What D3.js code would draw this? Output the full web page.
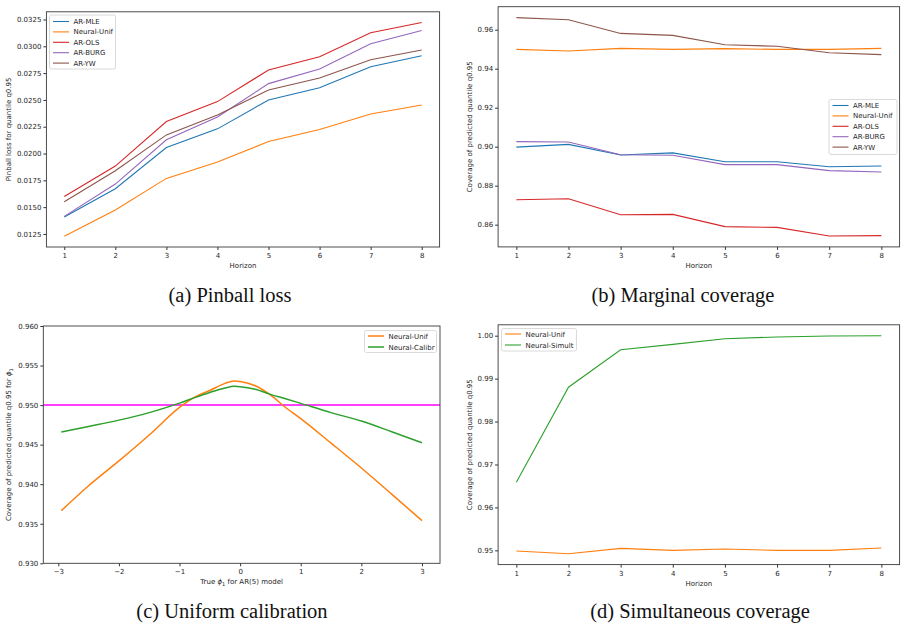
<!DOCTYPE html>
<html>
<head>
<meta charset="utf-8">
<script src="https://cdn.jsdelivr.net/npm/d3@7"></script>
<style>
  body { margin: 0; background: #fff; }
  svg { display: block; }
  .tick text { font-family: "DejaVu Sans", sans-serif; font-size: 7px; fill: #262626; }
  .tick line { stroke: #333; }
</style>
</head>
<body>
<div id="chart"></div>
<script>
// horizons shared by panels a, b, d
var horizons = [1, 2, 3, 4, 5, 6, 7, 8];

// (a) pinball loss
var pinMLE  = [0.01408, 0.01672, 0.02056, 0.02230, 0.02500, 0.02614, 0.02810, 0.02912];
var pinUnif = [0.01228, 0.01473, 0.01768, 0.01920, 0.02112, 0.02224, 0.02369, 0.02453];
var pinOLS  = [0.01600, 0.01883, 0.02298, 0.02484, 0.02779, 0.02903, 0.03126, 0.03222];
var pinBURG = [0.01414, 0.01715, 0.02128, 0.02341, 0.02652, 0.02788, 0.03024, 0.03148];
var pinYW   = [0.01551, 0.01839, 0.02174, 0.02360, 0.02593, 0.02704, 0.02875, 0.02965];
var pinTicks = [0.0125, 0.0150, 0.0175, 0.0200, 0.0225, 0.0250, 0.0275, 0.0300, 0.0325];

// (b) marginal coverage
var covMLE  = [0.8998, 0.9012, 0.8957, 0.8968, 0.8923, 0.8923, 0.8897, 0.8901];
var covUnif = [0.9499, 0.9491, 0.9504, 0.9499, 0.9503, 0.9499, 0.9499, 0.9504];
var covOLS  = [0.8728, 0.8733, 0.8651, 0.8653, 0.8590, 0.8586, 0.8542, 0.8544];
var covBURG = [0.9026, 0.9024, 0.8959, 0.8956, 0.8908, 0.8908, 0.8877, 0.8870];
var covYW   = [0.9662, 0.9651, 0.9581, 0.9571, 0.9523, 0.9515, 0.9482, 0.9472];
var covTicks = [0.86, 0.88, 0.90, 0.92, 0.94, 0.96];

// (c) uniform calibration, true phi_1
var phiVals   = [-2.95, -2.5, -2, -1.5, -1, -0.75, -0.5, -0.25, -0.1, 0, 0.25, 0.5, 0.75, 1, 1.5, 2, 2.5, 3];
var calUnif   = [0.93666, 0.9398, 0.94294, 0.94622, 0.94970, 0.95100, 0.95185, 0.95275, 0.95305, 0.95298, 0.95245, 0.95128, 0.94970, 0.94830, 0.94520, 0.94205, 0.93875, 0.93539];
var calCalibr = [0.94660, 0.9473, 0.94810, 0.94905, 0.95025, 0.95095, 0.95160, 0.95215, 0.95237, 0.95233, 0.95200, 0.95136, 0.95080, 0.95022, 0.94905, 0.94799, 0.94664, 0.94525];
var calTarget = 0.95;
var calTicks = [0.930, 0.935, 0.940, 0.945, 0.950, 0.955, 0.960];
var phiTicks = [-3, -2, -1, 0, 1, 2, 3];

// (d) simultaneous coverage
var simUnif   = [0.94984, 0.94922, 0.95047, 0.95000, 0.95031, 0.95000, 0.95000, 0.95054];
var simSimult = [0.96584, 0.98800, 0.99674, 0.99798, 0.99930, 0.99970, 0.99992, 1.00000];
var simTicks = [0.95, 0.96, 0.97, 0.98, 0.99, 1.00];

var blue = '#1f77b4', orange = '#ff7f0e', green = '#2ca02c',
    red = '#d62728', purple = '#9467bd', brown = '#8c564b';

var svg = d3.select('#chart').append('svg')
  .attr('width', 907)
  .attr('height', 631);

// matplotlib style 5% padding
function padded(values) {
  var lo = d3.min(values), hi = d3.max(values);
  var p = (hi - lo) * 0.05;
  return [lo - p, hi + p];
}

function drawPanel(p) {
  var x = d3.scaleLinear().domain(p.xDomain).range([p.left, p.right]);
  var y = d3.scaleLinear().domain(p.yDomain).range([p.bottom, p.top]);

  var g = svg.append('g');

  // lines
  var line = d3.line()
    .x(d => x(d[0]))
    .y(d => y(d[1]))
    .curve(p.curve || d3.curveLinear);

  if (p.hline !== undefined) {
    g.append('line')
      .attr('x1', p.left).attr('x2', p.right)
      .attr('y1', y(p.hline)).attr('y2', y(p.hline))
      .attr('stroke', '#ff00ff')
      .attr('stroke-width', 1.5);
  }

  p.series.forEach(function (s) {
    g.append('path')
      .datum(d3.zip(p.xs, s.values))
      .attr('fill', 'none')
      .attr('stroke', s.color)
      .attr('stroke-width', p.lw || 1.1)
      .attr('d', line);
  });

  // axes
  var xAxis = g.append('g')
    .attr('transform', `translate(0, ${p.bottom})`)
    .call(d3.axisBottom(x).tickValues(p.xTicks).tickSize(3).tickPadding(3)
      .tickFormat(p.xFormat || d3.format('d')));
  var yAxis = g.append('g')
    .attr('transform', `translate(${p.left}, 0)`)
    .call(d3.axisLeft(y).tickValues(p.yTicks).tickSize(3).tickPadding(2)
      .tickFormat(p.yFormat));
  xAxis.select('.domain').remove();
  yAxis.select('.domain').remove();

  // frame
  g.append('rect')
    .attr('x', p.left).attr('y', p.top)
    .attr('width', p.right - p.left).attr('height', p.bottom - p.top)
    .attr('fill', 'none')
    .attr('stroke', '#3a3a3a')
    .attr('stroke-width', 0.9);

  // axis labels
  var xl = g.append('text')
    .attr('x', (p.left + p.right) / 2)
    .attr('y', p.bottom + 21)
    .attr('text-anchor', 'middle')
    .attr('font-family', 'DejaVu Sans, sans-serif')
    .attr('font-size', '7px')
    .attr('fill', '#262626');
  p.xLabel(xl);

  var yl = g.append('text')
    .attr('transform', `translate(${p.yLabelX}, ${(p.top + p.bottom) / 2}) rotate(-90)`)
    .attr('text-anchor', 'middle')
    .attr('font-family', 'DejaVu Sans, sans-serif')
    .attr('font-size', '7px')
    .attr('fill', '#262626');
  p.yLabel(yl);

  // legend
  var L = p.legend;
  var lg = g.append('g');
  lg.append('rect')
    .attr('x', L.x).attr('y', L.y)
    .attr('width', L.w).attr('height', L.h)
    .attr('rx', 2)
    .attr('fill', 'white').attr('fill-opacity', 0.8)
    .attr('stroke', '#d0d0d0').attr('stroke-width', 0.8);
  p.series.forEach(function (s, i) {
    var yy = L.y + L.first + i * L.step;
    lg.append('line')
      .attr('x1', L.x + 3.5).attr('x2', L.x + 19.5)
      .attr('y1', yy).attr('y2', yy)
      .attr('stroke', s.color).attr('stroke-width', p.lw || 1.1);
    lg.append('text')
      .attr('x', L.x + 24).attr('y', yy + 2.5)
      .attr('font-family', 'DejaVu Sans, sans-serif')
      .attr('font-size', '7px')
      .attr('fill', '#262626')
      .text(s.name);
  });

  // caption
  svg.append('text')
    .attr('x', p.capX).attr('y', p.capY)
    .attr('text-anchor', 'middle')
    .attr('font-family', 'Liberation Serif, serif')
    .attr('font-size', '20.5px')
    .attr('fill', '#111')
    .text(p.caption);
}

function phiLabel(t, before, after) {
  t.append('tspan').text(before);
  t.append('tspan').attr('font-style', 'italic').text('ϕ');
  t.append('tspan').attr('font-size', '5px').attr('dy', '1.5').text('1');
  t.append('tspan').attr('dy', '-1.5').text(after);
}

// (a)
drawPanel({
  left: 46.4, right: 439.6, top: 11.8, bottom: 247,
  xDomain: [0.65, 8.35], yDomain: padded(pinUnif.concat(pinOLS)),
  xs: horizons, xTicks: horizons, yTicks: pinTicks, yFormat: d3.format('.4f'),
  series: [
    { name: 'AR-MLE', color: blue, values: pinMLE },
    { name: 'Neural-Unif', color: orange, values: pinUnif },
    { name: 'AR-OLS', color: red, values: pinOLS },
    { name: 'AR-BURG', color: purple, values: pinBURG },
    { name: 'AR-YW', color: brown, values: pinYW }
  ],
  xLabel: t => t.text('Horizon'),
  yLabel: t => t.text('Pinball loss for quantile q0.95'),
  yLabelX: 11,
  legend: { x: 49.5, y: 15, w: 66, h: 54, first: 6.5, step: 10.4 },
  caption: '(a) Pinball loss', capX: 230, capY: 302
});

// (b)
drawPanel({
  left: 498.1, right: 899.6, top: 6.7, bottom: 246.9,
  xDomain: [0.65, 8.35], yDomain: padded(covOLS.concat(covYW)),
  xs: horizons, xTicks: horizons, yTicks: covTicks, yFormat: d3.format('.2f'),
  series: [
    { name: 'AR-MLE', color: blue, values: covMLE },
    { name: 'Neural-Unif', color: orange, values: covUnif },
    { name: 'AR-OLS', color: red, values: covOLS },
    { name: 'AR-BURG', color: purple, values: covBURG },
    { name: 'AR-YW', color: brown, values: covYW }
  ],
  xLabel: t => t.text('Horizon'),
  yLabel: t => t.text('Coverage of predicted quantile q0.95'),
  yLabelX: 472,
  legend: { x: 829, y: 99.5, w: 68, h: 55, first: 6, step: 10.4 },
  caption: '(b) Marginal coverage', capX: 683, capY: 302
});

// (c)
drawPanel({
  left: 43.3, right: 440, top: 326, bottom: 563.3,
  xDomain: padded(phiVals), yDomain: [0.930, 0.960],
  xs: phiVals, xTicks: phiTicks, xFormat: d => d3.format('d')(d).replace('-', '\u2212'),
  yTicks: calTicks, yFormat: d3.format('.3f'),
  hline: calTarget, lw: 1.5, curve: d3.curveMonotoneX,
  series: [
    { name: 'Neural-Unif', color: orange, values: calUnif },
    { name: 'Neural-Calibr', color: green, values: calCalibr }
  ],
  xLabel: t => phiLabel(t, 'True ', ' for AR(5) model'),
  yLabel: t => phiLabel(t, 'Coverage of predicted quantile q0.95 for ', ''),
  yLabelX: 11,
  legend: { x: 364.5, y: 330.5, w: 72, h: 22, first: 5.5, step: 11 },
  caption: '(c) Uniform calibration', capX: 232, capY: 618
});

// (d)
drawPanel({
  left: 498.1, right: 899.6, top: 324.8, bottom: 564.6,
  xDomain: [0.65, 8.35], yDomain: padded(simUnif.concat(simSimult)),
  xs: horizons, xTicks: horizons, yTicks: simTicks, yFormat: d3.format('.2f'),
  series: [
    { name: 'Neural-Unif', color: orange, values: simUnif },
    { name: 'Neural-Simult', color: green, values: simSimult }
  ],
  xLabel: t => t.text('Horizon'),
  yLabel: t => t.text('Coverage of predicted quantile q0.95'),
  yLabelX: 472,
  legend: { x: 501.5, y: 328.5, w: 75, h: 22.5, first: 5.5, step: 11 },
  caption: '(d) Simultaneous coverage', capX: 700, capY: 618
});
</script>
</body>
</html>
